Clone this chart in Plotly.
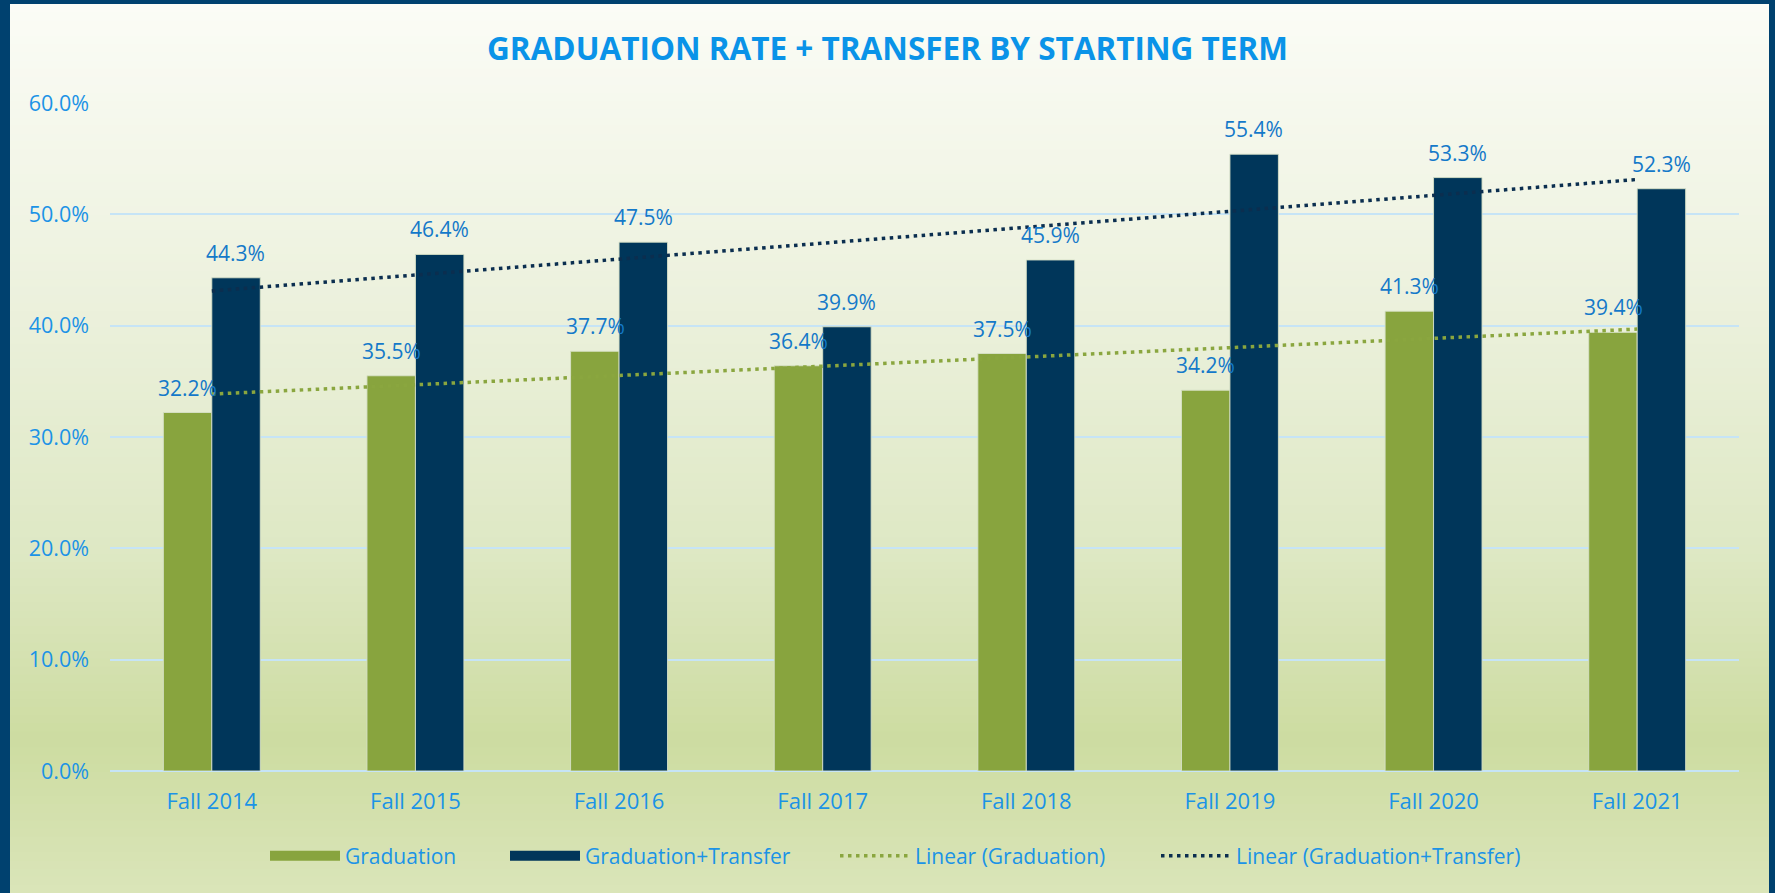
import numpy as np
import plotly.graph_objects as go

categories = ["Fall 2014", "Fall 2015", "Fall 2016", "Fall 2017",
              "Fall 2018", "Fall 2019", "Fall 2020", "Fall 2021"]
graduation = [32.2, 35.5, 37.7, 36.4, 37.5, 34.2, 41.3, 39.4]
grad_transfer = [44.3, 46.4, 47.5, 39.9, 45.9, 55.4, 53.3, 52.3]
y_ticks = [0, 10, 20, 30, 40, 50, 60]
y_tick_labels = ["0.0%", "10.0%", "20.0%", "30.0%", "40.0%", "50.0%", "60.0%"]

# Linear trendlines (least squares, like Excel's "Linear" trendline)
idx = np.arange(1, len(categories) + 1)
g_fit = np.polyval(np.polyfit(idx, graduation, 1), idx)
t_fit = np.polyval(np.polyfit(idx, grad_transfer, 1), idx)

FONT = "Open Sans"
TXT = "#1b93e6"
LBL = "#1479c9"
GREEN = "#88a43e"
NAVY = "#00365a"

W, H = 1775, 893
ML, MR, MT, MB = 110, 36, 103, 122
PW, PH = W - ML - MR, H - MT - MB
BAR_SHIFT = 24   # half of one bar's width in px (label centring)
LABEL_LIFT = 25  # label centre above bar top, px

fig = go.Figure()
fig.add_trace(go.Bar(
    name="Graduation", x=categories, y=graduation, legendgroup="g",
    marker=dict(color=GREEN, line=dict(color="rgba(215,225,200,0.9)", width=1)),
    showlegend=False,
))
fig.add_trace(go.Bar(
    name="Graduation+Transfer", x=categories, y=grad_transfer, legendgroup="t",
    marker=dict(color=NAVY, line=dict(color="rgba(215,225,200,0.9)", width=1)),
    showlegend=False,
))
# legend swatches for the bar series (wide rectangles like the original)
fig.add_trace(go.Scatter(
    name="Graduation", x=[None], y=[None], mode="lines", legendgroup="g",
    line=dict(color=GREEN, width=13), hoverinfo="skip", legend="legend",
))
fig.add_trace(go.Scatter(
    name="Graduation+Transfer", x=[None], y=[None], mode="lines", legendgroup="t",
    line=dict(color=NAVY, width=13), hoverinfo="skip", legend="legend2",
))
fig.add_trace(go.Scatter(
    name="Linear (Graduation)", x=categories, y=g_fit, mode="lines",
    line=dict(color="#8aa63f", width=3.5, dash="3.5px,4.5px"), legend="legend3",
))
fig.add_trace(go.Scatter(
    name="Linear (Graduation+Transfer)", x=categories, y=t_fit, mode="lines",
    line=dict(color="#0b2e4f", width=3.5, dash="3.5px,4.5px"), legend="legend4",
))

# data labels above each bar
annotations = []
for cat, g, t in zip(categories, graduation, grad_transfer):
    for val, sh in ((g, -BAR_SHIFT), (t, BAR_SHIFT)):
        annotations.append(dict(
            x=cat, y=val, xref="x", yref="y", text=f"{val:.1f}%",
            showarrow=False, xshift=sh, yshift=LABEL_LIFT,
            xanchor="center", yanchor="middle",
            font=dict(family=FONT, size=21, color=LBL),
        ))

# background gradient (decorative bands in paper coordinates)
def px2x(px):
    return (px - ML) / PW

def py2y(py):
    return (H - MB - py) / PH

stops = [(4, (251, 252, 246)), (300, (236, 241, 221)), (550, (222, 232, 196)),
         (740, (205, 220, 161)), (893, (218, 229, 185))]

def col_at(py):
    for (a, ca), (b, cb) in zip(stops[:-1], stops[1:]):
        if a <= py <= b:
            t = (py - a) / (b - a)
            return "rgb(%d,%d,%d)" % tuple(round(ca[i] + (cb[i] - ca[i]) * t) for i in range(3))
    return "rgb(%d,%d,%d)" % stops[-1][1]

shapes = []
n = 110
top, bot = 4, 893
for k in range(n):
    y0p = top + (bot - top) * k / n
    y1p = top + (bot - top) * (k + 1) / n
    shapes.append(dict(
        type="rect", xref="paper", yref="paper", layer="below",
        x0=px2x(10), x1=px2x(1769), y0=py2y(bot + 2), y1=py2y(y0p),
        fillcolor=col_at((y0p + y1p) / 2), line=dict(width=0),
    ))

def legend_at(px_left):
    return dict(orientation="h", xref="container", x=(px_left - 5) / W, xanchor="left",
                yref="container", y=1 - 856 / H, yanchor="middle",
                bgcolor="rgba(0,0,0,0)", itemwidth=70,
                font=dict(family=FONT, size=21, color=TXT))

fig.update_layout(
    width=W, height=H,
    margin=dict(l=ML, r=MR, t=MT, b=MB, autoexpand=False),
    paper_bgcolor="#00416f", plot_bgcolor="rgba(0,0,0,0)",
    shapes=shapes, annotations=annotations,
    barmode="group", bargap=0.524, bargroupgap=0,
    font=dict(family=FONT, size=22, color=TXT),
    title=dict(text="GRADUATION RATE + TRANSFER BY STARTING TERM",
               x=0.5, xref="container", xanchor="center",
               y=1 - 49 / H, yref="container", yanchor="middle",
               font=dict(family=FONT, size=31.5, color="#0a93e8", weight="bold")),
    xaxis=dict(showgrid=False, showline=False, ticks="", ticklabelstandoff=15,
               tickfont=dict(family=FONT, size=22, color=TXT)),
    yaxis=dict(range=[0, 60], tickvals=y_ticks, ticktext=y_tick_labels,
               showgrid=True, gridcolor="#c6e4f6", gridwidth=2,
               zeroline=True, zerolinecolor="#c6e4f6", zerolinewidth=2,
               showline=False, ticks="", ticklabelstandoff=20,
               tickfont=dict(family=FONT, size=21.5, color=TXT)),
    legend=legend_at(270), legend2=legend_at(510),
    legend3=legend_at(840), legend4=legend_at(1161),
    showlegend=True,
)

fig.write_html("out.html", config={"displayModeBar": False},
               post_script="document.body.style.margin='0';")
